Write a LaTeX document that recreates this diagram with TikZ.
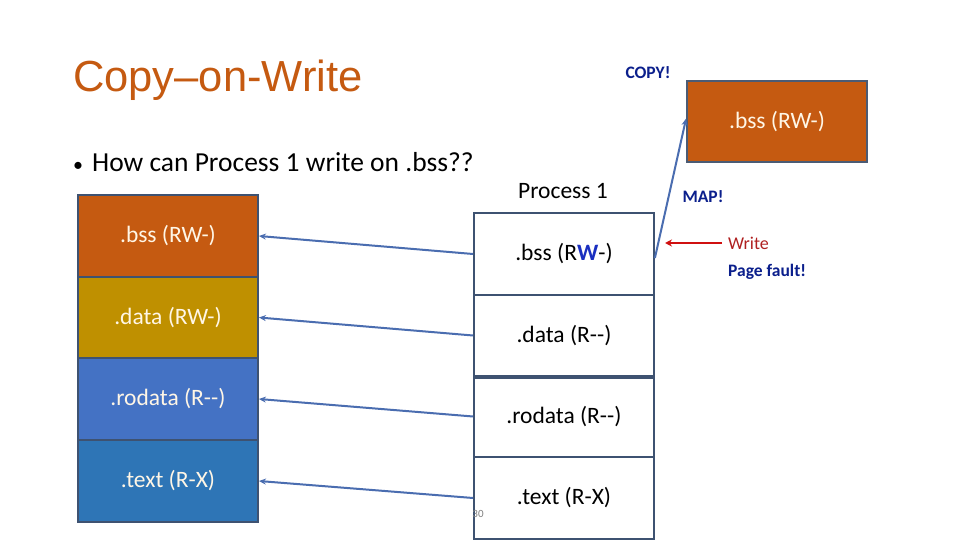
\documentclass[tikz,border=0pt]{standalone}
\usepackage{fontspec}
\setmainfont{Carlito}
\newfontfamily\arialf{Liberation Sans}
\usetikzlibrary{arrows.meta}
\definecolor{cwOrange}{HTML}{C55A11}
\definecolor{cwGold}{HTML}{BF9000}
\definecolor{cwBlueA}{HTML}{4472C4}
\definecolor{cwBlueB}{HTML}{2E75B6}
\definecolor{cwBorder}{HTML}{3E5271}
\definecolor{cwCream}{HTML}{FFF6E6}
\definecolor{cwLine}{HTML}{4A6DB0}
\definecolor{cwNavy}{HTML}{0B1F8C}
\definecolor{cwRed}{HTML}{D01010}
\definecolor{cwWrite}{HTML}{B02020}
\definecolor{cwW}{HTML}{1A2FC0}
\newcommand{\dd}{-\kern0pt-}
\tikzset{
  lseg/.style={draw=cwBorder, line width=1.8pt, minimum width=180pt, inner sep=0pt,
    text=cwCream, font=\fontsize{23.5}{25}\selectfont},
  rseg/.style={draw=cwBorder, line width=1.8pt, minimum width=180pt, inner sep=0pt,
    fill=white, text=black, font=\fontsize{23.5}{25}\selectfont},
  conn/.style={draw=cwLine, line width=2pt, -{Stealth[length=7pt,width=6pt]}},
  redarr/.style={draw=cwRed, line width=2.6pt, -{Stealth[length=7pt,width=7pt]}},
  navylbl/.style={text=cwNavy, font=\fontsize{17.5}{19}\selectfont\bfseries, inner sep=1pt},
}
\begin{document}
\begin{tikzpicture}[x=1pt,y=-1pt]
\useasboundingbox[fill=white] (0,0) rectangle (960,540);

% title and bullet
\node[anchor=west, text=cwOrange, font=\arialf\fontsize{43.5}{46}\selectfont, inner sep=0pt] (title) at (73,80) {Copy–on-Write};
\node[anchor=west, font=\fontsize{27.5}{30}\selectfont, inner sep=0pt] (bullet) at (73,162) {{\fontsize{20}{22}\selectfont•}\kern9pt How can Process 1 write on .bss??};

% left column
\node[lseg, fill=cwOrange, minimum height=82pt] (lbss) at (168,236) {.bss (RW-)};
\node[lseg, fill=cwGold, minimum height=81pt] (ldata) at (168,317.5) {.data (RW-)};
\node[lseg, fill=cwBlueA, minimum height=82pt] (lrod) at (168,399) {.rodata (R\dd)};
\node[lseg, fill=cwBlueB, minimum height=82pt] (ltext) at (168,481) {.text (R-X)};

% right column
\node[font=\fontsize{23.5}{25}\selectfont] (proc) at (563,191) {Process 1};
\node[rseg, minimum height=82pt] (rbss) at (564,254) {.bss (R{\color{cwW}\bfseries W}-)};
\node[rseg, minimum height=81pt] (rdata) at (564,335.5) {.data (R\dd)};
\node[rseg, minimum height=81pt] (rrod) at (564,416.5) {.rodata (R\dd)};
\node[rseg, minimum height=82pt] (rtext) at (564,498) {.text (R-X)};
\draw[cwBorder, line width=3.2pt] (rdata.south west) -- (rdata.south east);

% copied page
\node[lseg, fill=cwOrange, draw=cwBorder!80!gray, minimum height=81pt] (obss) at (777,121.5) {.bss (RW-)};

% labels
\node[navylbl] (copy) at (648,73) {COPY!};
\node[navylbl] (map) at (703,197) {MAP!};
\node[anchor=west, text=cwWrite, font=\fontsize{18}{20}\selectfont, inner sep=1pt] (write) at (727,243) {Write};
\node[navylbl, anchor=west] (pf) at (727,272) {Page fault!};
\node[text=gray, font=\fontsize{11}{12}\selectfont, inner sep=0pt] (num) at (478,514) {30};

% connectors
\draw[conn] (rbss.west) -- (lbss.east);
\draw[conn] (rdata.west) -- (ldata.east);
\draw[conn] (rrod.west) -- (lrod.east);
\draw[conn] (rtext.west) -- (ltext.east);
\draw[conn] ([yshift=-4pt]rbss.east) -- ([yshift=3pt]obss.west);
\coordinate (wtip) at (665,243);
\draw[redarr] ([xshift=-5pt]write.west) -- (wtip);
\end{tikzpicture}
\end{document}
